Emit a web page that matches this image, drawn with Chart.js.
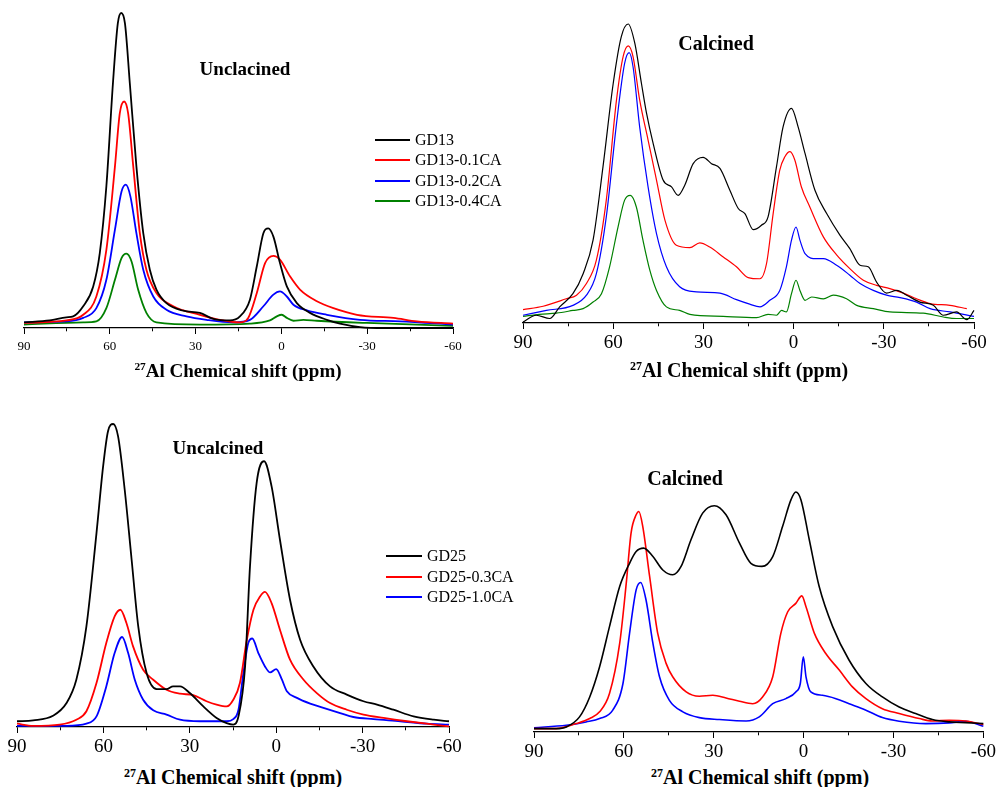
<!DOCTYPE html>
<html>
<head>
<meta charset="utf-8">
<script src="https://cdn.jsdelivr.net/npm/chart.js@4.4.1/dist/chart.umd.min.js"></script>
<style>
  body { margin: 0; background: #fff; }
  #page { position: relative; width: 1000px; height: 787px; overflow: hidden; background: #fff;
          font-family: "Liberation Serif", "Times New Roman", serif; color: #000; }
  .wrap { position: absolute; }
  .wrap canvas { display: block; }
  .lbl { position: absolute; transform: translate(-50%, -50%); white-space: nowrap; line-height: 1; font-weight: bold; }
  .lbl sup { font-size: 0.6em; vertical-align: 0.55em; line-height: 0; }
  .leg { position: absolute; white-space: nowrap; font-size: 16px; line-height: 20px; height: 20px; }
  .leg i { position: absolute; left: 0; top: 9px; height: 2px; }
  .leg span { position: absolute; top: 0; }
</style>
</head>
<body>
<div id="page">
  <div class="wrap"><canvas id="c1"></canvas></div>
  <div class="wrap"><canvas id="c2"></canvas></div>
  <div class="wrap"><canvas id="c3"></canvas></div>
  <div class="wrap"><canvas id="c4"></canvas></div>

  <div class="lbl" style="left:245px; top:68px; font-size:19px;">Unclacined</div>
  <div class="lbl" style="left:716px; top:43px; font-size:20px;">Calcined</div>
  <div class="lbl" style="left:218px; top:447px; font-size:19px;">Uncalcined</div>
  <div class="lbl" style="left:685px; top:478px; font-size:20px;">Calcined</div>

  <div class="lbl" style="left:238px; top:370px; font-size:19px;"><sup>27</sup>Al Chemical shift (ppm)</div>
  <div class="lbl" style="left:739px; top:370px; font-size:20px;"><sup>27</sup>Al Chemical shift (ppm)</div>
  <div class="lbl" style="left:233px; top:777px; font-size:20px;"><sup>27</sup>Al Chemical shift (ppm)</div>
  <div class="lbl" style="left:760px; top:777px; font-size:20px;"><sup>27</sup>Al Chemical shift (ppm)</div>

  <div id="leg1"></div>
  <div id="leg3"></div>
</div>

<script>
// Datos: [ppm, intensidad] (pico más alto de cada panel = 100)

// Panel 1: GD13 sin calcinar
const gd13U = [[90,1.8],[81,2.4],[75.2,3.4],[72.8,3.7],[69.3,6.9],[65.8,13.2],[63.5,23.8],[61.2,45],[58.9,77.7],[57.2,96.7],[56,100],[54.7,96.7],[53,77.7],[50.7,51.3],[48.3,30.1],[46,18.5],[43.7,12.2],[40.2,7.9],[34.3,5.5],[28.5,4.8],[23.8,2.9],[18,2.4],[14.5,3.7],[11,9],[8.6,19.6],[6.3,30.1],[4.6,31.6],[2.8,29],[0.5,20.6],[-1.9,13.2],[-5.4,7.9],[-10,4.8],[-15.9,2.6],[-20.5,1.4],[-27.5,0.3],[-35.7,0],[-60,0]];
const gd13U01 = [[90,1.6],[75.2,2.4],[69.3,4.2],[64.7,10],[61.2,24.8],[58.2,51.3],[56.5,68.2],[55,71.9],[53.6,68.2],[51.8,51.3],[49.5,30.1],[47.2,18.5],[43.7,11.1],[37.8,6.9],[28.5,4.2],[21.5,2.6],[14.5,1.8],[11.6,3.2],[8.6,11.1],[5.7,20.6],[2.8,22.9],[0.5,21.7],[-3,16.4],[-6.5,12.2],[-12.4,8.5],[-18.2,6.3],[-26.4,4.2],[-39.2,3.2],[-47.4,2.1],[-60,1.4]];
const gd13U02 = [[90,1.8],[75.2,2.1],[69.3,3.2],[64.7,6.3],[61.2,15.3],[58.2,31.2],[55.9,43.3],[54.4,45.5],[52.8,41.8],[50.7,30.1],[48.3,18.5],[44.8,10],[40.2,5.8],[33.2,3.7],[26.2,2.6],[16.8,1.8],[11,2.6],[6.3,6.9],[2.8,10.6],[0.5,11.6],[-1.9,10],[-4.2,7.4],[-8.9,5.6],[-15.9,4.2],[-27.5,2.6],[-41.5,2.1],[-60,1.1]];
const gd13U04 = [[90,1.1],[69.3,1.8],[64.7,2.1],[61.2,6.3],[58.2,15.3],[55.9,22.2],[54.2,23.6],[52.4,21.1],[50.1,12.2],[47.2,4.8],[43.7,1.8],[28.5,1.1],[11,1.4],[4,2.4],[1.6,3.7],[-0.1,4.2],[-1.9,3.2],[-4.2,2.3],[-7.7,2.6],[-12.4,2.3],[-29.9,1.6],[-60,0.7]];

// Panel 2: GD13 calcinado
const gd13C = [[90,0.3],[85.6,2.6],[81.1,1.5],[77.8,5.4],[73.4,9.8],[70,16.5],[66.7,27.7],[63.4,52.2],[60,80.1],[57.3,95.8],[55,100],[52.8,93.5],[50.6,80.1],[48.9,70.1],[46.7,60],[43.4,47.8],[40.6,45.5],[38.4,42.7],[36.2,46.1],[33.4,53.3],[30.1,55.4],[27.3,53.3],[24.5,51.7],[21.2,44.4],[18.4,38.3],[16.2,36.6],[13.4,31.2],[10.7,32.7],[8.5,35.5],[5.7,52.2],[3.5,65.6],[0.7,71.8],[-1.5,65.6],[-3.8,56.7],[-7.1,44.4],[-11,36.6],[-15.4,29.4],[-18.7,24.9],[-22.1,19.3],[-24.8,18.8],[-27.6,13.7],[-30.9,10],[-34.3,10.9],[-37.6,9.3],[-42,7],[-46.5,5.9],[-49.8,2.6],[-54.2,3.7],[-57.6,1.1],[-60,4.2]];
const gd13C01 = [[90,4.5],[83.3,5.6],[75.6,8.1],[72.2,9.3],[68.9,13.2],[65.6,21],[62.3,41.1],[58.9,74.6],[56.7,89.1],[55,92.7],[53.4,89.1],[51.2,74.6],[48.4,61.2],[45.6,47.8],[42.8,34.4],[39,26],[34.5,25.2],[31.2,26.8],[27.9,25.4],[23.4,22.1],[19,18.8],[15.1,15.2],[11.2,14.8],[9,19.9],[6.8,36.6],[4.6,51.1],[2.9,55.6],[1.2,57.3],[-0.4,54.5],[-2.6,45.5],[-5.4,38.8],[-9.9,28.8],[-14.3,22.8],[-18.7,18.2],[-23.2,14.3],[-27.6,12.6],[-32,11.5],[-36.5,10],[-40.9,8.1],[-45.4,6.5],[-52,5.9],[-57.6,4.8]];
const gd13C02 = [[90,2.6],[82.2,4.2],[73.4,5.9],[68.9,9.3],[65.6,16.5],[62.3,35.5],[58.9,66.7],[56.2,86.8],[54.7,90.4],[53.4,85.7],[51.2,65.6],[48.4,45.5],[45.6,29.9],[42.3,18.8],[37.9,12.1],[32.3,10.4],[24.5,10],[19,7.8],[14.6,6.3],[11.2,5.4],[7.9,7.6],[4.6,10.9],[2.4,18.8],[0.7,27.7],[-0.8,32.1],[-2.1,27.7],[-3.8,23.2],[-7.6,21.5],[-9.9,21.5],[-14.3,19.3],[-18.7,16],[-22.1,13.2],[-26.5,10.9],[-30.9,9.3],[-35.4,8.5],[-40.9,7],[-45.4,4.8],[-52,3.7],[-60,2.2]];
const gd13C04 = [[90,2.2],[84.5,2.9],[78.9,3.3],[73.4,4.2],[70,4.8],[66.7,7],[63.9,9.8],[61.2,18.8],[58.4,32.1],[56.2,41.1],[54.3,42.7],[52.3,38.8],[50.1,27.7],[47.8,17.6],[45.6,10.9],[42.3,5.4],[37.9,4.2],[34.5,2.9],[23.4,2.2],[12.3,1.8],[8.5,2.9],[5.7,2.6],[4,4.2],[2.4,3.7],[0.7,9.8],[-0.8,14.3],[-2.1,10.9],[-3.8,7.6],[-6,8.7],[-9.9,8.1],[-13.2,9.3],[-17.6,8.1],[-21,5.9],[-26.5,4.8],[-32,3.7],[-43.1,3.3],[-49.8,2],[-54.2,1.5],[-60,1.5]];

// Panel 3: GD25 sin calcinar
const gd25U = [[90,1.9],[84.4,2.2],[77.5,3.7],[72.8,7.9],[69.4,15.6],[65.9,33.2],[62.4,64],[60.1,86],[58.4,97.6],[56.6,100],[54.9,95.9],[52.6,78.3],[50.2,55.2],[47.9,33.2],[45,17.8],[41.5,12.5],[38.1,12.5],[35.8,13.4],[33.4,13.4],[30,11.2],[25.3,6.8],[20.7,3],[17.2,1.3],[14.9,0.8],[13.1,3.5],[10.8,20],[9.1,53],[6.8,80.5],[4.2,87.7],[1.6,79.4],[-1.3,61.8],[-4.8,42],[-8.3,28.8],[-12.9,20],[-18.7,13.4],[-24.5,10.7],[-30.3,8.5],[-35,7.4],[-40.7,5.7],[-47.7,3.5],[-54.7,2.4],[-60,1.9]];
const gd25U03 = [[90,1.1],[84.4,0.4],[75.2,0.8],[69.4,2.4],[65.9,5.2],[62.4,14.5],[59,27.7],[56.1,36.5],[54.1,38.7],[52,34.3],[49.7,26.6],[46.2,18.9],[42.7,15.6],[38.1,12.3],[33.4,11],[28.8,10.5],[24.2,8.5],[20.7,7.4],[17.2,6.8],[14.9,9],[12.6,14.5],[10.2,28.8],[7.9,38.7],[5.6,43.1],[3.9,44.6],[1.6,40.9],[-1.3,32.1],[-4.8,22.2],[-9.5,15.6],[-14.1,11.2],[-18.7,7.9],[-24.5,5.7],[-30.3,4.1],[-37.3,3],[-45.4,1.9],[-54.7,0.8],[-60,0.2]];
const gd25U10 = [[90,0.4],[72.8,0.4],[65.9,1.1],[62.4,3.5],[59,13.4],[56.1,24.4],[53.5,29.7],[51.4,24.4],[49.1,15.6],[46.2,9],[42.7,5.5],[38.1,4.1],[33.4,2.4],[26.5,1.9],[17.2,1.9],[14.9,2.6],[13.1,5.7],[11.4,17.8],[9.7,27.7],[8.3,29.2],[6.2,24.4],[3.9,20],[2.1,18],[0,19.1],[-2,15.6],[-3.7,11.8],[-7.2,9.6],[-11.8,7.7],[-16.4,6.3],[-22.2,4.6],[-26.8,3.3],[-33.8,2.6],[-43.1,1.9],[-52.3,1.1],[-60,0.8]];

// Panel 4: GD25 calcinado
const gd25C = [[90,1.4],[82.6,1.4],[79.2,2.1],[74.8,6.3],[71.4,14.6],[68.1,27.2],[64.8,43.9],[61.4,60.6],[58.1,70.3],[55.9,75.2],[53.4,76.6],[50.3,73.1],[47,67.5],[43.7,65.5],[40.9,69],[37.6,80.1],[33.7,91.2],[29.8,94.3],[25.9,90.5],[21.4,78.7],[17.6,70.3],[13.9,69],[10.3,73.1],[7,85.7],[4.2,96.8],[2.6,100],[0.9,96.8],[-1.9,80.1],[-5.2,60.6],[-9.7,43.9],[-15.2,29.9],[-20.8,20.2],[-26.3,14.6],[-31.9,10.4],[-37.4,7.7],[-43,5.2],[-48.6,4.2],[-54.1,3.9],[-60,3.5]];
const gd25C03 = [[90,1.4],[82.6,1.4],[75.9,3.5],[71.4,5.6],[68.1,8.4],[64.8,16],[61.4,36.9],[59.2,62],[57.6,82.9],[55.9,90.5],[55,91.9],[53.7,85.7],[51.4,64.8],[48.7,41.1],[45.9,28.6],[43.7,23],[39.2,16.7],[34.8,14.9],[30.3,15.3],[25.9,14.2],[21.4,12.8],[17,11.8],[13.7,14.6],[10.3,23],[7.6,41.1],[5.3,50.1],[2.6,53.6],[0.6,56.7],[-0.8,52.2],[-3.6,41.1],[-7.4,32.7],[-11.9,25.8],[-16.3,18.8],[-20.8,13.9],[-26.3,9.7],[-31.9,7.7],[-38.6,5.6],[-43,4.6],[-48.6,4.9],[-54.1,4.6],[-60,3.1]];
const gd25C10 = [[90,1.8],[79.2,2.8],[72.6,4.2],[68.1,5.6],[63.7,9.1],[60.3,20.2],[58.1,41.1],[55.9,59.2],[54.4,62.3],[52.6,55],[50.3,36.9],[48.1,23],[44.8,13.2],[40.3,8.4],[34.8,6],[28.1,5.2],[19.2,4.6],[14.8,6.3],[10.3,11.8],[5.9,13.9],[2.6,16.7],[1.1,20.2],[0.1,31.3],[-0.8,23],[-2.4,16.7],[-6.3,15.3],[-10.8,13.9],[-15.2,11.8],[-20.8,9.1],[-26.3,6],[-31.9,4.5],[-40.8,3.5],[-48.6,3.8],[-54.1,4.5],[-60,2.4]];

// Etiquetas de los ejes
const xTicks = [90, 60, 30, 0, -30, -60];
const legend1 = ['GD13', 'GD13-0.1CA', 'GD13-0.2CA', 'GD13-0.4CA'];
const legend3 = ['GD25', 'GD25-0.3CA', 'GD25-1.0CA'];
const colors = ['#000000', '#ff0000', '#0000ff', '#008000'];

function toXY(arr) {
    return arr.map(p => ({ x: p[0], y: p[1] }));
}

// Crear un panel: area = posición del eje (L, R) y de la línea base (B), T = valor 100
function buildPanel(canvasId, area, series, tickSize, tickPad, lineWidth) {
    const padL = area.padL || 20, padR = area.padR || 20, padT = 6, axisH = 34;
    const canvas = document.getElementById(canvasId);
    const wrap = canvas.parentElement;
    const w = area.R - area.L + padL + padR;
    const h = area.B - area.T + padT + axisH;
    wrap.style.left = (area.L - padL) + 'px';
    wrap.style.top = (area.T - padT) + 'px';
    canvas.width = w;
    canvas.height = h;
    canvas.style.width = w + 'px';
    canvas.style.height = h + 'px';

    return new Chart(canvas.getContext('2d'), {
        type: 'line',
        data: {
            datasets: series.map((s, i) => ({
                data: toXY(s),
                borderColor: colors[i],
                borderWidth: lineWidth,
                pointRadius: 0,
                fill: false,
                cubicInterpolationMode: 'monotone',
                clip: false
            }))
        },
        options: {
            responsive: false,
            animation: false,
            events: [],
            layout: { padding: { left: padL, right: padR, top: padT, bottom: 0 } },
            plugins: { legend: { display: false }, tooltip: { enabled: false } },
            scales: {
                x: {
                    type: 'linear',
                    reverse: true,
                    min: -60,
                    max: 90,
                    afterFit: (scale) => { scale.height = axisH; },
                    afterBuildTicks: (scale) => {
                        const t = [];
                        for (let v = 90; v >= -60; v -= 15) t.push({ value: v });
                        scale.ticks = t;
                    },
                    ticks: {
                        autoSkip: false,
                        maxRotation: 0,
                        padding: tickPad,
                        color: '#000',
                        font: { family: '"Liberation Serif", "Times New Roman", serif', size: tickSize },
                        callback: (v) => xTicks.includes(v) ? String(v) : ''
                    },
                    grid: {
                        drawOnChartArea: false,
                        drawTicks: true,
                        tickLength: 6,
                        color: '#000',
                        lineWidth: 1,
                        // marcas menores más cortas
                        tickBorderDash: (ctx) => (ctx.tick && !xTicks.includes(ctx.tick.value)) ? [3, 20] : []
                    },
                    border: { display: true, color: '#000', width: 1.3 }
                },
                y: { display: false, min: 0, max: 100 }
            }
        }
    });
}

function buildLegend(id, names, x, y0, step, lineLen) {
    const box = document.getElementById(id);
    names.forEach((n, i) => {
        const row = document.createElement('div');
        row.className = 'leg';
        row.style.left = x + 'px';
        row.style.top = (y0 + i * step - 10) + 'px';
        row.innerHTML = '<i style="width:' + lineLen + 'px;background:' + colors[i] + '"></i>' +
            '<span style="left:' + (lineLen + 5) + 'px">' + n + '</span>';
        box.appendChild(row);
    });
}

buildPanel('c1', { L: 24, R: 453, T: 13, B: 328 }, [gd13U, gd13U01, gd13U02, gd13U04], 13, 5, 1.8);
buildPanel('c2', { L: 523, R: 974, T: 24, B: 323 }, [gd13C, gd13C01, gd13C02, gd13C04], 19, 3, 1.2);
buildPanel('c3', { L: 17, R: 449, T: 424, B: 727, padL: 17 }, [gd25U, gd25U03, gd25U10], 19, 3, 1.8);
buildPanel('c4', { L: 534, R: 984, T: 492, B: 732, padR: 15 }, [gd25C, gd25C03, gd25C10], 19, 3, 1.6);

buildLegend('leg1', legend1, 375, 140, 20.3, 35);
buildLegend('leg3', legend3, 386, 556, 20.5, 36);
</script>
</body>
</html>
